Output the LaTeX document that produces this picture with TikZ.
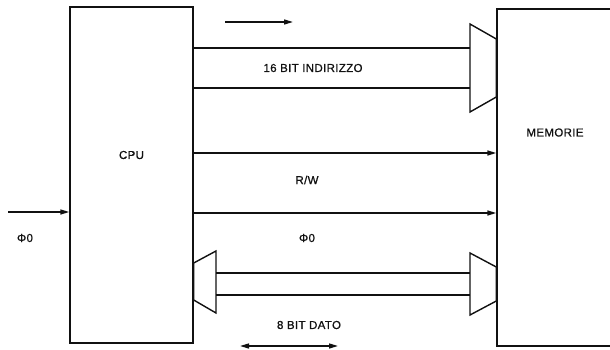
\documentclass[tikz,border=0pt]{standalone}
\usepackage{fontspec}
\setmainfont{Liberation Sans}
\setsansfont{Liberation Sans}
\newfontfamily\scanfont{Liberation Sans}[FakeBold=0.9,LetterSpace=3]
\usepackage{xcolor}
\definecolor{ink}{HTML}{111111}
\usetikzlibrary{arrows.meta,positioning,calc}
\tikzset{
  >={Triangle[length=9pt,width=5pt]},
  font=\scanfont\fontsize{11.5}{13}\selectfont,
  unit/.style={draw=ink,line width=1.4pt,fill=white,inner sep=0pt},
  wire/.style={draw=ink,line width=1.4pt},
  sig/.style={wire,->},
  buf/.style={draw=ink,line width=1.4pt,line join=miter,fill=white},
  lbl/.style={text=ink,inner sep=1pt},
}

\begin{document}
\begin{tikzpicture}[x=1pt,y=-1pt]
  \useasboundingbox (0,0) rectangle (610,350);

  % blocks
  \node[unit,minimum width=123pt,minimum height=336pt,
        label={[lbl,yshift=20pt]center:CPU}] (cpu) at (131.5,175) {};
  \node[unit,minimum width=116pt,minimum height=337pt,
        label={[lbl,yshift=45pt]center:MEMORIE}] (mem) at (555,177.5) {};

  % address bus
  \coordinate (a1) at (470,48);
  \coordinate (a2) at (470,88);
  \draw[wire] (cpu.east |- a1) -- (a1);
  \draw[wire] (cpu.east |- a2) -- (a2);
  \draw[buf] (470,24) -- (mem.west |- 0,39) -- (mem.west |- 0,97) -- (470,112) -- cycle;
  \node[lbl] (addr) at (313,68) {16 BIT INDIRIZZO};
  \coordinate (d1) at (225,22);
  \coordinate (d2) at (293,22);
  \draw[sig] (d1) -- (d2);

  % control lines
  \coordinate (rw) at (300,153);
  \coordinate (ck) at (300,213);
  \draw[sig] (cpu.east |- rw) -- (mem.west |- rw);
  \draw[sig] (cpu.east |- ck) -- (mem.west |- ck);
  \node[lbl] (rwt) at (307,180) {R/W};
  \node[lbl] (ckt) at (307,238) {Φ0};

  % clock input
  \coordinate (in) at (8,212);
  \draw[sig] (in) -- (cpu.west |- in);
  \node[lbl] (int) at (25,238) {Φ0};

  % data bus
  \draw[buf] (cpu.east |- 0,263) -- (216,251) -- (216,313) -- (cpu.east |- 0,300) -- cycle;
  \draw[buf] (470,253) -- (mem.west |- 0,267) -- (mem.west |- 0,301) -- (470,315) -- cycle;
  \coordinate (b1) at (216,273);
  \coordinate (b2) at (216,295);
  \draw[wire] (b1) -- (470,273);
  \draw[wire] (b2) -- (470,295);
  \node[lbl] (dat) at (309,325) {8 BIT DATO};
  \coordinate (e1) at (240,346);
  \coordinate (e2) at (338,346);
  \draw[wire,<->] (e1) -- (e2);
\end{tikzpicture}
\end{document}
